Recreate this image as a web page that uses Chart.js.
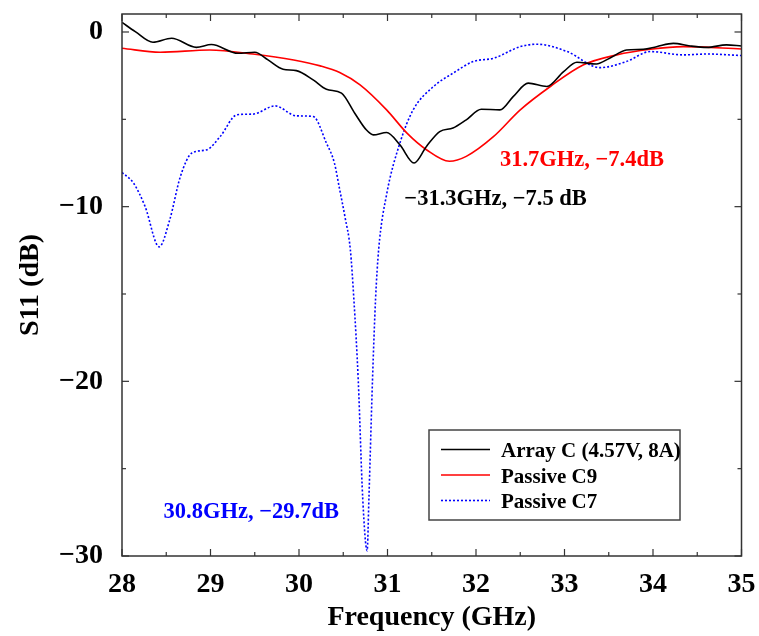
<!DOCTYPE html>
<html>
<head>
<meta charset="utf-8">
<script src="https://cdn.jsdelivr.net/npm/chart.js@4.4.1/dist/chart.umd.min.js"></script>
<style>
  html, body { margin: 0; padding: 0; background: #fff; }
  canvas { display: block; }
</style>
</head>
<body>
<canvas id="c" width="759" height="636"></canvas>
<script>
// ---- measured S11 data (frequency in GHz, S11 in dB) ----
const freqArrayC = [28.00, 28.15, 28.35, 28.56, 28.84, 29.01, 29.31, 29.50, 29.65, 29.82, 29.97, 30.16, 30.31,
  30.48, 30.63, 30.76, 30.84, 30.99, 31.14, 31.30, 31.44, 31.59, 31.74, 31.89, 32.06, 32.27, 32.42, 32.59,
  32.80, 32.99, 33.14, 33.36, 33.51, 33.70, 33.89, 34.04, 34.23, 34.42, 34.61, 34.83, 35.00];
const s11ArrayC = [0.55, 0.02, -0.59, -0.36, -0.88, -0.72, -1.22, -1.16, -1.60, -2.13, -2.21, -2.74, -3.28,
  -3.50, -4.65, -5.60, -5.89, -5.75, -6.46, -7.50, -6.55, -5.70, -5.50, -5.03, -4.42, -4.46, -3.70, -2.93,
  -3.12, -2.27, -1.73, -1.83, -1.50, -1.03, -0.99, -0.84, -0.65, -0.80, -0.88, -0.74, -0.80];

const freqC9 = [28.00, 28.43, 28.99, 29.48, 29.94, 30.24, 30.46, 30.69, 30.99, 31.22, 31.44, 31.70, 31.89,
  32.20, 32.50, 32.84, 33.21, 33.59, 33.97, 34.34, 35.00];
const s11C9 = [-0.93, -1.16, -1.03, -1.26, -1.60, -1.94, -2.32, -3.03, -4.46, -5.79, -6.74, -7.40, -7.12,
  -5.98, -4.46, -3.12, -1.89, -1.31, -0.99, -0.84, -0.97];

const freqC7 = [28.00, 28.13, 28.26, 28.42, 28.54, 28.66, 28.79, 28.96, 29.11, 29.30, 29.48, 29.73, 29.97,
  30.16, 30.31, 30.40, 30.46, 30.52, 30.58, 30.62, 30.67, 30.72, 30.77, 30.79, 30.83, 30.865, 30.90, 30.99,
  31.14, 31.29, 31.52, 31.74, 31.97, 32.20, 32.50, 32.69, 33.03, 33.40, 33.70, 33.97, 34.34, 34.61, 35.00];
const s11C7 = [-8.04, -8.65, -9.98, -12.30, -10.74, -8.27, -6.93, -6.74, -5.98, -4.74, -4.70, -4.23, -4.80,
  -4.84, -6.36, -7.50, -9.03, -10.60, -12.46, -15.30, -20.00, -26.70, -29.70, -26.70, -20.00, -15.30, -12.46, -9.30,
  -6.36, -4.46, -3.12, -2.36, -1.69, -1.50, -0.84, -0.70, -1.12, -2.04, -1.69, -1.12, -1.31, -1.26, -1.35];

const seriesNames = ['Array C (4.57V, 8A)', 'Passive C9', 'Passive C7'];
const xTickValues = [28, 29, 30, 31, 32, 33, 34, 35];
const yTickValues = [0, -10, -20, -30];

// callouts for the resonance minima (text, anchor frequency, anchor dB)
const callouts = [
  { text: '31.7GHz, \u22127.4dB', x: 32.27, y: -7.70, color: '#ff0000' },
  { text: '\u221231.3GHz, \u22127.5 dB', x: 31.19, y: -9.89, color: '#000000' },
  { text: '30.8GHz, \u221229.7dB', x: 28.47, y: -27.85, color: '#0000ff' }
];

const FONT = "'Liberation Serif', 'Times New Roman', serif";
const toPoints = (xs, ys) => xs.map((v, i) => ({ x: v, y: ys[i] }));
const minus = v => (v < 0 ? '\u2212' + Math.abs(v) : String(v));
const noOverflow = s => { s.paddingTop = 0; s.paddingBottom = 0; s.paddingLeft = 0; s.paddingRight = 0; };

// box frame with inward major/minor ticks on all four sides
const framePlugin = {
  id: 'frame',
  afterDatasetsDraw(chart) {
    const { ctx, chartArea: a, scales: { x, y } } = chart;
    ctx.save();
    ctx.strokeStyle = '#333';
    ctx.lineWidth = 1.5;
    ctx.strokeRect(a.left, a.top, a.right - a.left, a.bottom - a.top);
    ctx.lineWidth = 1.2;
    const seg = (x1, y1, x2, y2) => { ctx.beginPath(); ctx.moveTo(x1, y1); ctx.lineTo(x2, y2); ctx.stroke(); };
    for (let i = 0; i < xTickValues.length; i++) {
      const v = xTickValues[i];
      const px = x.getPixelForValue(v);
      seg(px, a.bottom, px, a.bottom - 7);
      seg(px, a.top, px, a.top + 7);
      if (i < xTickValues.length - 1) {
        const mx = x.getPixelForValue((v + xTickValues[i + 1]) / 2);
        seg(mx, a.bottom, mx, a.bottom - 4);
        seg(mx, a.top, mx, a.top + 4);
      }
    }
    for (let i = 0; i < yTickValues.length; i++) {
      const v = yTickValues[i];
      const py = y.getPixelForValue(v);
      seg(a.left, py, a.left + 7, py);
      seg(a.right, py, a.right - 7, py);
      if (i < yTickValues.length - 1) {
        const my = y.getPixelForValue((v + yTickValues[i + 1]) / 2);
        seg(a.left, my, a.left + 4, my);
        seg(a.right, my, a.right - 4, my);
      }
    }
    ctx.restore();
  }
};

// text callouts placed in data coordinates
const calloutPlugin = {
  id: 'callouts',
  afterDatasetsDraw(chart) {
    const { ctx, scales: { x, y } } = chart;
    ctx.save();
    ctx.font = 'bold 22.5px ' + FONT;
    ctx.textAlign = 'left';
    ctx.textBaseline = 'alphabetic';
    callouts.forEach(c => {
      ctx.fillStyle = c.color;
      ctx.fillText(c.text, x.getPixelForValue(c.x), y.getPixelForValue(c.y));
    });
    ctx.restore();
  }
};

// boxed legend inside the plot, lower right
const legendPlugin = {
  id: 'boxLegend',
  afterDraw(chart) {
    const { ctx, chartArea: a } = chart;
    const left = a.left + 307, top = a.top + 416, w = 251, h = 90;
    ctx.save();
    ctx.fillStyle = '#fff';
    ctx.fillRect(left, top, w, h);
    ctx.strokeStyle = '#444';
    ctx.lineWidth = 1.5;
    ctx.strokeRect(left, top, w, h);
    ctx.font = 'bold 21px ' + FONT;
    ctx.textBaseline = 'alphabetic';
    ctx.textAlign = 'left';
    chart.data.datasets.forEach((ds, i) => {
      const ly = top + 19.5 + i * 25.5;
      ctx.strokeStyle = ds.borderColor;
      ctx.lineWidth = ds.borderWidth;
      ctx.setLineDash(ds.borderDash || []);
      ctx.beginPath();
      ctx.moveTo(left + 12, ly);
      ctx.lineTo(left + 61, ly);
      ctx.stroke();
      ctx.setLineDash([]);
      ctx.fillStyle = '#000';
      ctx.fillText(ds.label, left + 72, ly + 7.5);
    });
    ctx.restore();
  }
};

new Chart(document.getElementById('c'), {
  type: 'line',
  data: {
    datasets: [
      { label: seriesNames[0], data: toPoints(freqArrayC, s11ArrayC), borderColor: '#000000', borderWidth: 1.6 },
      { label: seriesNames[1], data: toPoints(freqC9, s11C9), borderColor: '#ff0000', borderWidth: 1.6 },
      { label: seriesNames[2], data: toPoints(freqC7, s11C7), borderColor: '#0000ff', borderWidth: 1.6, borderDash: [2, 2] }
    ]
  },
  options: {
    responsive: false,
    animation: false,
    events: [],
    devicePixelRatio: 1,
    layout: { padding: { top: 14, right: 17.5, bottom: 0, left: 0 } },
    elements: {
      point: { radius: 0 },
      line: { cubicInterpolationMode: 'monotone', fill: false }
    },
    plugins: { legend: { display: false }, tooltip: { enabled: false } },
    scales: {
      x: {
        type: 'linear', min: 28, max: 35,
        afterBuildTicks: s => { s.ticks = xTickValues.map(v => ({ value: v })); },
        afterFit: s => { s.height = 80; noOverflow(s); },
        grid: { display: false, drawTicks: false },
        border: { display: false },
        ticks: { font: { family: FONT, size: 28, weight: 'bold' }, color: '#000', padding: 12, maxRotation: 0, autoSkip: false },
        title: { display: true, text: 'Frequency (GHz)', color: '#000', font: { family: FONT, size: 28, weight: 'bold' }, padding: { top: 2, bottom: 1 } }
      },
      y: {
        type: 'linear', min: -30, max: 1.03,
        afterBuildTicks: s => { s.ticks = yTickValues.map(v => ({ value: v })); },
        afterFit: s => { s.width = 122; noOverflow(s); },
        grid: { display: false, drawTicks: false },
        border: { display: false },
        ticks: { font: { family: FONT, size: 28, weight: 'bold' }, color: '#000', padding: 19, callback: v => minus(v) },
        title: { display: true, text: 'S11 (dB)', color: '#000', font: { family: FONT, size: 28, weight: 'bold' }, padding: { top: 14, bottom: 0 } }
      }
    }
  },
  plugins: [framePlugin, calloutPlugin, legendPlugin]
});
</script>
</body>
</html>
